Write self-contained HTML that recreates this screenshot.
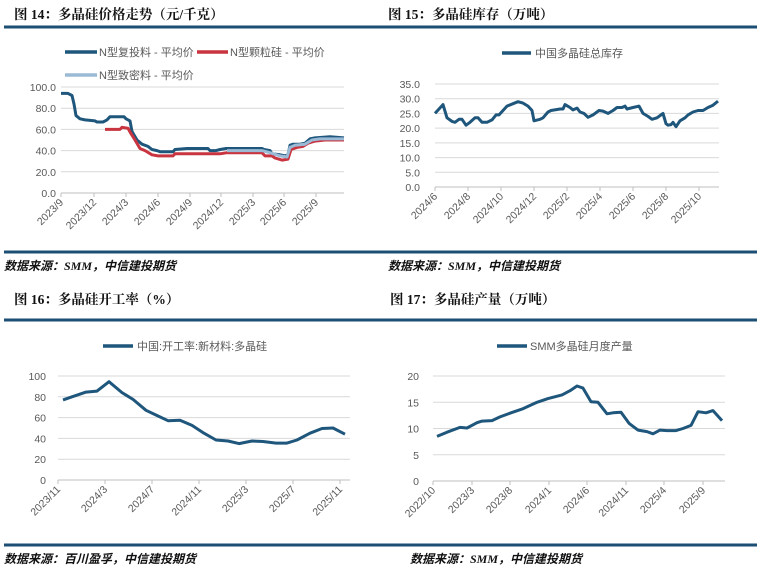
<!DOCTYPE html>
<html><head><meta charset="utf-8"><style>
html,body{margin:0;padding:0;background:#fff}
svg{display:block;font-family:"Liberation Sans","Noto Sans CJK SC",sans-serif}
.t{font-family:"Liberation Serif","Noto Serif CJK SC","Noto Sans CJK SC",serif;font-weight:bold;font-size:13.5px;fill:#111}
.s{font-family:"Liberation Serif","Noto Sans CJK SC",serif;font-weight:bold;font-style:italic;font-size:12px;fill:#111}
.lg{font-size:11px;fill:#595959}
.tk{font-size:10.5px;fill:#595959}
.g{stroke:#d9d9d9;stroke-width:1}
.ax{stroke:#bfbfbf;stroke-width:1}
.rule{stroke:#1d4e74;stroke-width:3}
</style></head><body>
<svg id="s" width="761" height="570" viewBox="0 0 761 570" xmlns="http://www.w3.org/2000/svg">
<text class="t" x="14" y="19">图 14：多晶硅价格走势（元/千克）</text>
<text class="t" x="388" y="19">图 15：多晶硅库存（万吨）</text>
<text class="t" x="14" y="304">图 16：多晶硅开工率（%）</text>
<text class="t" x="390" y="304">图 17：多晶硅产量（万吨）</text>
<line class="rule" x1="4" y1="27" x2="380" y2="27"/>
<line class="rule" x1="380" y1="27" x2="757" y2="27"/>
<line class="rule" x1="4" y1="252" x2="380" y2="252"/>
<line class="rule" x1="380" y1="252" x2="757" y2="252"/>
<line class="rule" x1="4" y1="320" x2="380" y2="320"/>
<line class="rule" x1="380" y1="320" x2="757" y2="320"/>
<line class="rule" x1="4" y1="545" x2="380" y2="545"/>
<line class="rule" x1="380" y1="545" x2="757" y2="545"/>
<text class="s" x="4" y="270">数据来源：SMM，中信建投期货</text>
<text class="s" x="388" y="270">数据来源：SMM，中信建投期货</text>
<text class="s" x="4" y="563">数据来源：百川盈孚，中信建投期货</text>
<text class="s" x="410" y="563">数据来源：SMM，中信建投期货</text>
<!-- legends -->
<line x1="65" y1="52" x2="97" y2="52" stroke="#1f567c" stroke-width="3.5"/>
<text class="lg" x="99" y="56">N型复投料 - 平均价</text>
<line x1="197" y1="52" x2="228" y2="52" stroke="#c8343f" stroke-width="3.5"/>
<text class="lg" x="230" y="56">N型颗粒硅 - 平均价</text>
<line x1="65" y1="75" x2="97" y2="75" stroke="#9bbad6" stroke-width="3.5"/>
<text class="lg" x="99" y="79">N型致密料 - 平均价</text>
<line x1="502" y1="53" x2="531" y2="53" stroke="#1f567c" stroke-width="3.5"/>
<text class="lg" x="535" y="57">中国多晶硅总库存</text>
<line x1="103" y1="346" x2="133" y2="346" stroke="#1f567c" stroke-width="3.5"/>
<text class="lg" x="137" y="350">中国:开工率:新材料:多晶硅</text>
<line x1="497" y1="346" x2="527" y2="346" stroke="#1f567c" stroke-width="3.5"/>
<text class="lg" x="530" y="350">SMM多晶硅月度产量</text>
<g id="dyn"></g>
</svg>
<script>
var NS="http://www.w3.org/2000/svg",G=document.getElementById("dyn");
function el(n,a,t){var e=document.createElementNS(NS,n);for(var k in a)e.setAttribute(k,a[k]);if(t!=null)e.textContent=t;G.appendChild(e);return e;}
function chart(c){
  // grid + y labels
  for(var i=0;i<c.yl.length;i++){var v=c.yl[i].v,y=c.y0-v*c.k;
    if(v!==0)el("line",{x1:c.x0,y1:y,x2:c.x1,y2:y,"class":"g"});
    el("text",{x:c.lx,y:y+4,"text-anchor":"end","class":"tk"},c.yl[i].t);}
  el("line",{x1:c.x0,y1:c.y0,x2:c.x1,y2:c.y0,"class":"ax"});
  for(var j=0;j<c.xt.length;j++){var x=c.xt[j][0];
    el("line",{x1:x,y1:c.y0,x2:x,y2:c.y0+4,"class":"ax"});
    el("text",{x:x+3,y:c.y0+10,"text-anchor":"end","class":"tk",transform:"rotate(-45 "+(x+3)+" "+(c.y0+10)+")"},c.xt[j][1]);}
  for(var s=0;s<c.ser.length;s++){var d="",p=c.ser[s].p;
    for(var m=0;m<p.length;m+=2)d+=(m?"L":"M")+p[m]+" "+(c.y0-p[m+1]*c.k).toFixed(1);
    el("path",{d:d,fill:"none",stroke:c.ser[s].c,"stroke-width":3,"stroke-linejoin":"round"});}
}
function yl(a,f){return a.map(function(v){return{v:v,t:f?v.toFixed(1):String(v)}})}
chart({x0:61,x1:344,y0:193,k:1.06,lx:56,yl:yl([0,20,40,60,80,100],1),
 xt:[[61,"2023/9"],[94,"2023/12"],[126,"2024/3"],[158,"2024/6"],[190,"2024/9"],[221,"2024/12"],[253,"2025/3"],[284,"2025/6"],[316,"2025/9"]],
 ser:[
 {c:"#1f567c",p:[61,94,68,94,72,92,74,84,76,73,80,70,85,69,95,68,97,67,103,67,107,69,110,72,124,72,126,70,130,68,132,58,137,50,142,46,148,44,152,41,157,40,160,39,173,39,175,41,187,42,208,42,210,40,216,40,220,41,226,42,262,42,264,41,270,40,272,37,280,36,285,35,288,36,290,45,293,46,300,46,305,47,310,51,315,52,330,53,344,52]},
 {c:"#c8343f",p:[105,60,120,60,122,62,128,61,131,56,135,50,140,42,145,40,152,36,158,35,173,35,175,37,220,37,227,38,262,38,265,35,272,35,275,33,282,31,288,32,291,41,297,43,303,44,308,47,315,49,325,50,344,50]},
 {c:"#9bbad6",p:[227,40,262,40,270,38,280,35,287,34,290,43,295,45,305,46,312,50,320,51,344,51]}]});
chart({x0:435,x1:719,y0:187,k:2.943,lx:420,yl:yl([0,5,10,15,20,25,30,35],1),
 xt:[[435,"2024/6"],[468,"2024/8"],[501,"2024/10"],[534,"2024/12"],[567,"2025/2"],[600,"2025/4"],[633,"2025/6"],[666,"2025/8"],[699,"2025/10"]],
 ser:[{c:"#1f567c",p:[435,25,443,28,447,23.5,452,22.3,455,22,459,23,462,23,466,21,470,22,475,23.5,478,23.5,482,22,487,22,492,22.8,496,24.5,499,24.5,507,27.5,513,28.3,518,29,523,28.5,528,27.5,532,26,534,22.5,540,23,543,23.5,548,25.5,551,26,560,26.5,563,26.5,565,28,570,27,573,26.2,577,26.8,580,25.5,584,25,588,23.7,593,24.5,599,26,603,25.8,608,25,613,26,617,27,622,27,625,27.5,627,26.5,633,27,639,27.5,643,25,648,24,652,23,657,23.5,661,24.5,663,25,666,21.5,668,21,671,21.2,673,22,676,20.5,680,22.5,685,23.5,688,24.5,693,25.5,698,26,703,26,708,27,713,27.8,718,29.2]}]});
chart({x0:58,x1:350,y0:480,k:1.04,lx:46,yl:yl([0,20,40,60,80,100]),
 xt:[[58,"2023/11"],[105,"2024/3"],[152,"2024/7"],[199,"2024/11"],[246,"2025/3"],[293,"2025/7"],[340,"2025/11"]],
 ser:[{c:"#1f567c",p:[63,77,72,80,86,84.5,97,85.5,109,94.5,122,84,133,77.5,146,67,157,62,168,57,180,57.5,192,52.5,204,45,216,38.5,228,37.5,239,35,252,37.5,263,37,276,35.5,287,35.5,297,38.5,310,45,322,49.5,333,50,345,44]}]});
chart({x0:433,x1:725,y0:481,k:5.25,lx:419,yl:yl([0,5,10,15,20]),
 xt:[[433,"2022/10"],[472,"2023/3"],[510,"2023/8"],[549,"2024/1"],[587,"2024/6"],[626,"2024/11"],[664,"2025/4"],[703,"2025/9"]],
 ser:[{c:"#1f567c",p:[437,8.5,447,9.3,460,10.2,467,10.1,477,11.1,482,11.4,492,11.5,500,12.2,511,13,522,13.7,537,15,548,15.7,562,16.4,570,17.2,577,18.1,583,17.7,591,15.1,598,15,607,12.8,613,13,621,13.1,629,11,638,9.7,647,9.4,653,9,660,9.7,667,9.6,676,9.6,683,10,691,10.6,698,13.2,706,13,713,13.4,722,11.5]}]});
</script>
</body></html>
